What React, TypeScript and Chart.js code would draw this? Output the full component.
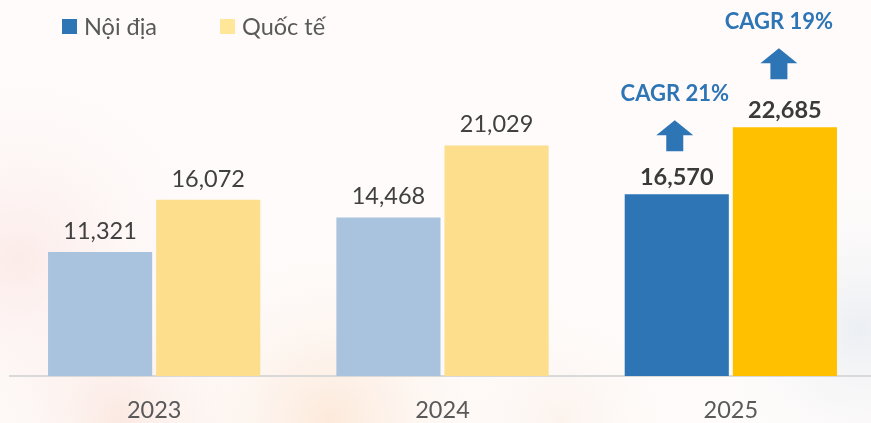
import React, { useEffect, useRef } from "react";
import { Chart, registerables } from "chart.js";

Chart.register(...registerables);

const years = ["2023", "2024", "2025"];
const domestic = [11321, 14468, 16570];
const international = [16072, 21029, 22685];
const seriesNames = ["Nội địa", "Quốc tế"];
const cagrLabels = ["CAGR 21%", "CAGR 19%"];

const FONT = "Lato, 'Noto Sans', sans-serif";
const domesticColors = ["#A9C3DE", "#A9C3DE", "#2E75B6"];
const intlColors = ["#FCDE8C", "#FCDE8C", "#FFC000"];
const ARROW_BLUE = "#2E75B6";

const fmt = (v: number) => v.toLocaleString("en-US");

const backgroundPlugin = {
  id: "bgPaint",
  beforeDraw(chart: any) {
    const { ctx, width, height } = chart;
    ctx.save();
    ctx.fillStyle = "#FEFBFA";
    ctx.fillRect(0, 0, width, height);
    const blobs = [
      { x: 20, y: 260, r: 220, c: "rgba(248,205,200,0.35)" },
      { x: 330, y: 420, r: 200, c: "rgba(250,200,160,0.35)" },
      { x: 120, y: 420, r: 160, c: "rgba(245,190,170,0.3)" },
      { x: 860, y: 330, r: 160, c: "rgba(200,215,230,0.35)" },
      { x: 560, y: 420, r: 140, c: "rgba(248,220,200,0.25)" },
    ];
    for (const b of blobs) {
      const g = ctx.createRadialGradient(b.x, b.y, 0, b.x, b.y, b.r);
      g.addColorStop(0, b.c);
      g.addColorStop(1, "rgba(255,255,255,0)");
      ctx.fillStyle = g;
      ctx.fillRect(0, 0, width, height);
    }
    ctx.restore();
  },
};

const drawArrow = (ctx: any, cx: number, top: number) => {
  const headW = 37;
  const headH = 15;
  const shaftW = 17;
  const shaftH = 16;
  ctx.beginPath();
  ctx.moveTo(cx, top);
  ctx.lineTo(cx + headW / 2, top + headH);
  ctx.lineTo(cx + shaftW / 2, top + headH);
  ctx.lineTo(cx + shaftW / 2, top + headH + shaftH);
  ctx.lineTo(cx - shaftW / 2, top + headH + shaftH);
  ctx.lineTo(cx - shaftW / 2, top + headH);
  ctx.lineTo(cx - headW / 2, top + headH);
  ctx.closePath();
  ctx.fillStyle = ARROW_BLUE;
  ctx.fill();
};

const overlayPlugin = {
  id: "overlay",
  afterDatasetsDraw(chart: any) {
    const { ctx } = chart;
    ctx.save();
    ctx.textAlign = "center";
    ctx.textBaseline = "alphabetic";
    const last = years.length - 1;
    chart.data.datasets.forEach((ds: any, di: number) => {
      const meta = chart.getDatasetMeta(di);
      meta.data.forEach((bar: any, i: number) => {
        const bold = i === last;
        ctx.font = `${bold ? "bold " : ""}23.5px ${FONT}`;
        ctx.fillStyle = bold ? "#3A3A3A" : "#404040";
        const gap = bold ? 9 : 13;
        ctx.fillText(fmt(ds.data[i]), bar.x, bar.y - gap);
        if (bold) {
          const arrowTop = bar.y - (di === 0 ? 74 : 79);
          const shift = di === 0 ? -2 : -6;
          drawArrow(ctx, bar.x + shift, arrowTop);
          ctx.font = `bold 22px ${FONT}`;
          ctx.fillStyle = ARROW_BLUE;
          ctx.fillText(cagrLabels[di], bar.x + shift, arrowTop - 19);
        }
      });
    });
    // legend
    const legendItems = [
      { x: 62, color: "#2E75B6", label: seriesNames[0] },
      { x: 220, color: "#FFE699", label: seriesNames[1] },
    ];
    ctx.textAlign = "left";
    ctx.textBaseline = "middle";
    ctx.font = `23.5px ${FONT}`;
    for (const it of legendItems) {
      ctx.fillStyle = it.color;
      ctx.fillRect(it.x, 19, 15, 15);
      ctx.fillStyle = "#595959";
      ctx.fillText(it.label, it.x + 22, 27);
    }
    ctx.restore();
  },
};

export default function App() {
  const canvasRef = useRef<HTMLCanvasElement | null>(null);

  useEffect(() => {
    if (!canvasRef.current) return;
    const chart = new Chart(canvasRef.current, {
      type: "bar",
      data: {
        labels: years,
        datasets: [
          {
            label: seriesNames[0],
            data: domestic,
            backgroundColor: domesticColors,
            barPercentage: 0.963,
            categoryPercentage: 0.75,
          },
          {
            label: seriesNames[1],
            data: international,
            backgroundColor: intlColors,
            barPercentage: 0.963,
            categoryPercentage: 0.75,
          },
        ],
      },
      options: {
        responsive: true,
        maintainAspectRatio: false,
        animation: false,
        layout: { padding: { left: 10, right: 1, top: 0, bottom: 0 } },
        plugins: {
          legend: { display: false },
          tooltip: { enabled: false },
          title: { display: false },
        },
        scales: {
          y: {
            display: false,
            min: 0,
            max: 34300,
          },
          x: {
            grid: { display: false, drawTicks: false },
            border: { display: true, color: "#D9D9D9", width: 2 },
            ticks: {
              color: "#595959",
              font: { family: FONT, size: 23.5 },
              padding: 20,
            },
            afterFit: (scale: any) => {
              scale.height = 47;
            },
          },
        },
      },
      plugins: [backgroundPlugin, overlayPlugin],
    });
    return () => chart.destroy();
  }, []);

  return (
    <div
      style={{
        position: "fixed",
        left: 0,
        top: 0,
        width: 871,
        height: 423,
        overflow: "hidden",
      }}
    >
      <div style={{ position: "relative", width: 876, height: 423 }}>
        <canvas ref={canvasRef} />
      </div>
    </div>
  );
}
